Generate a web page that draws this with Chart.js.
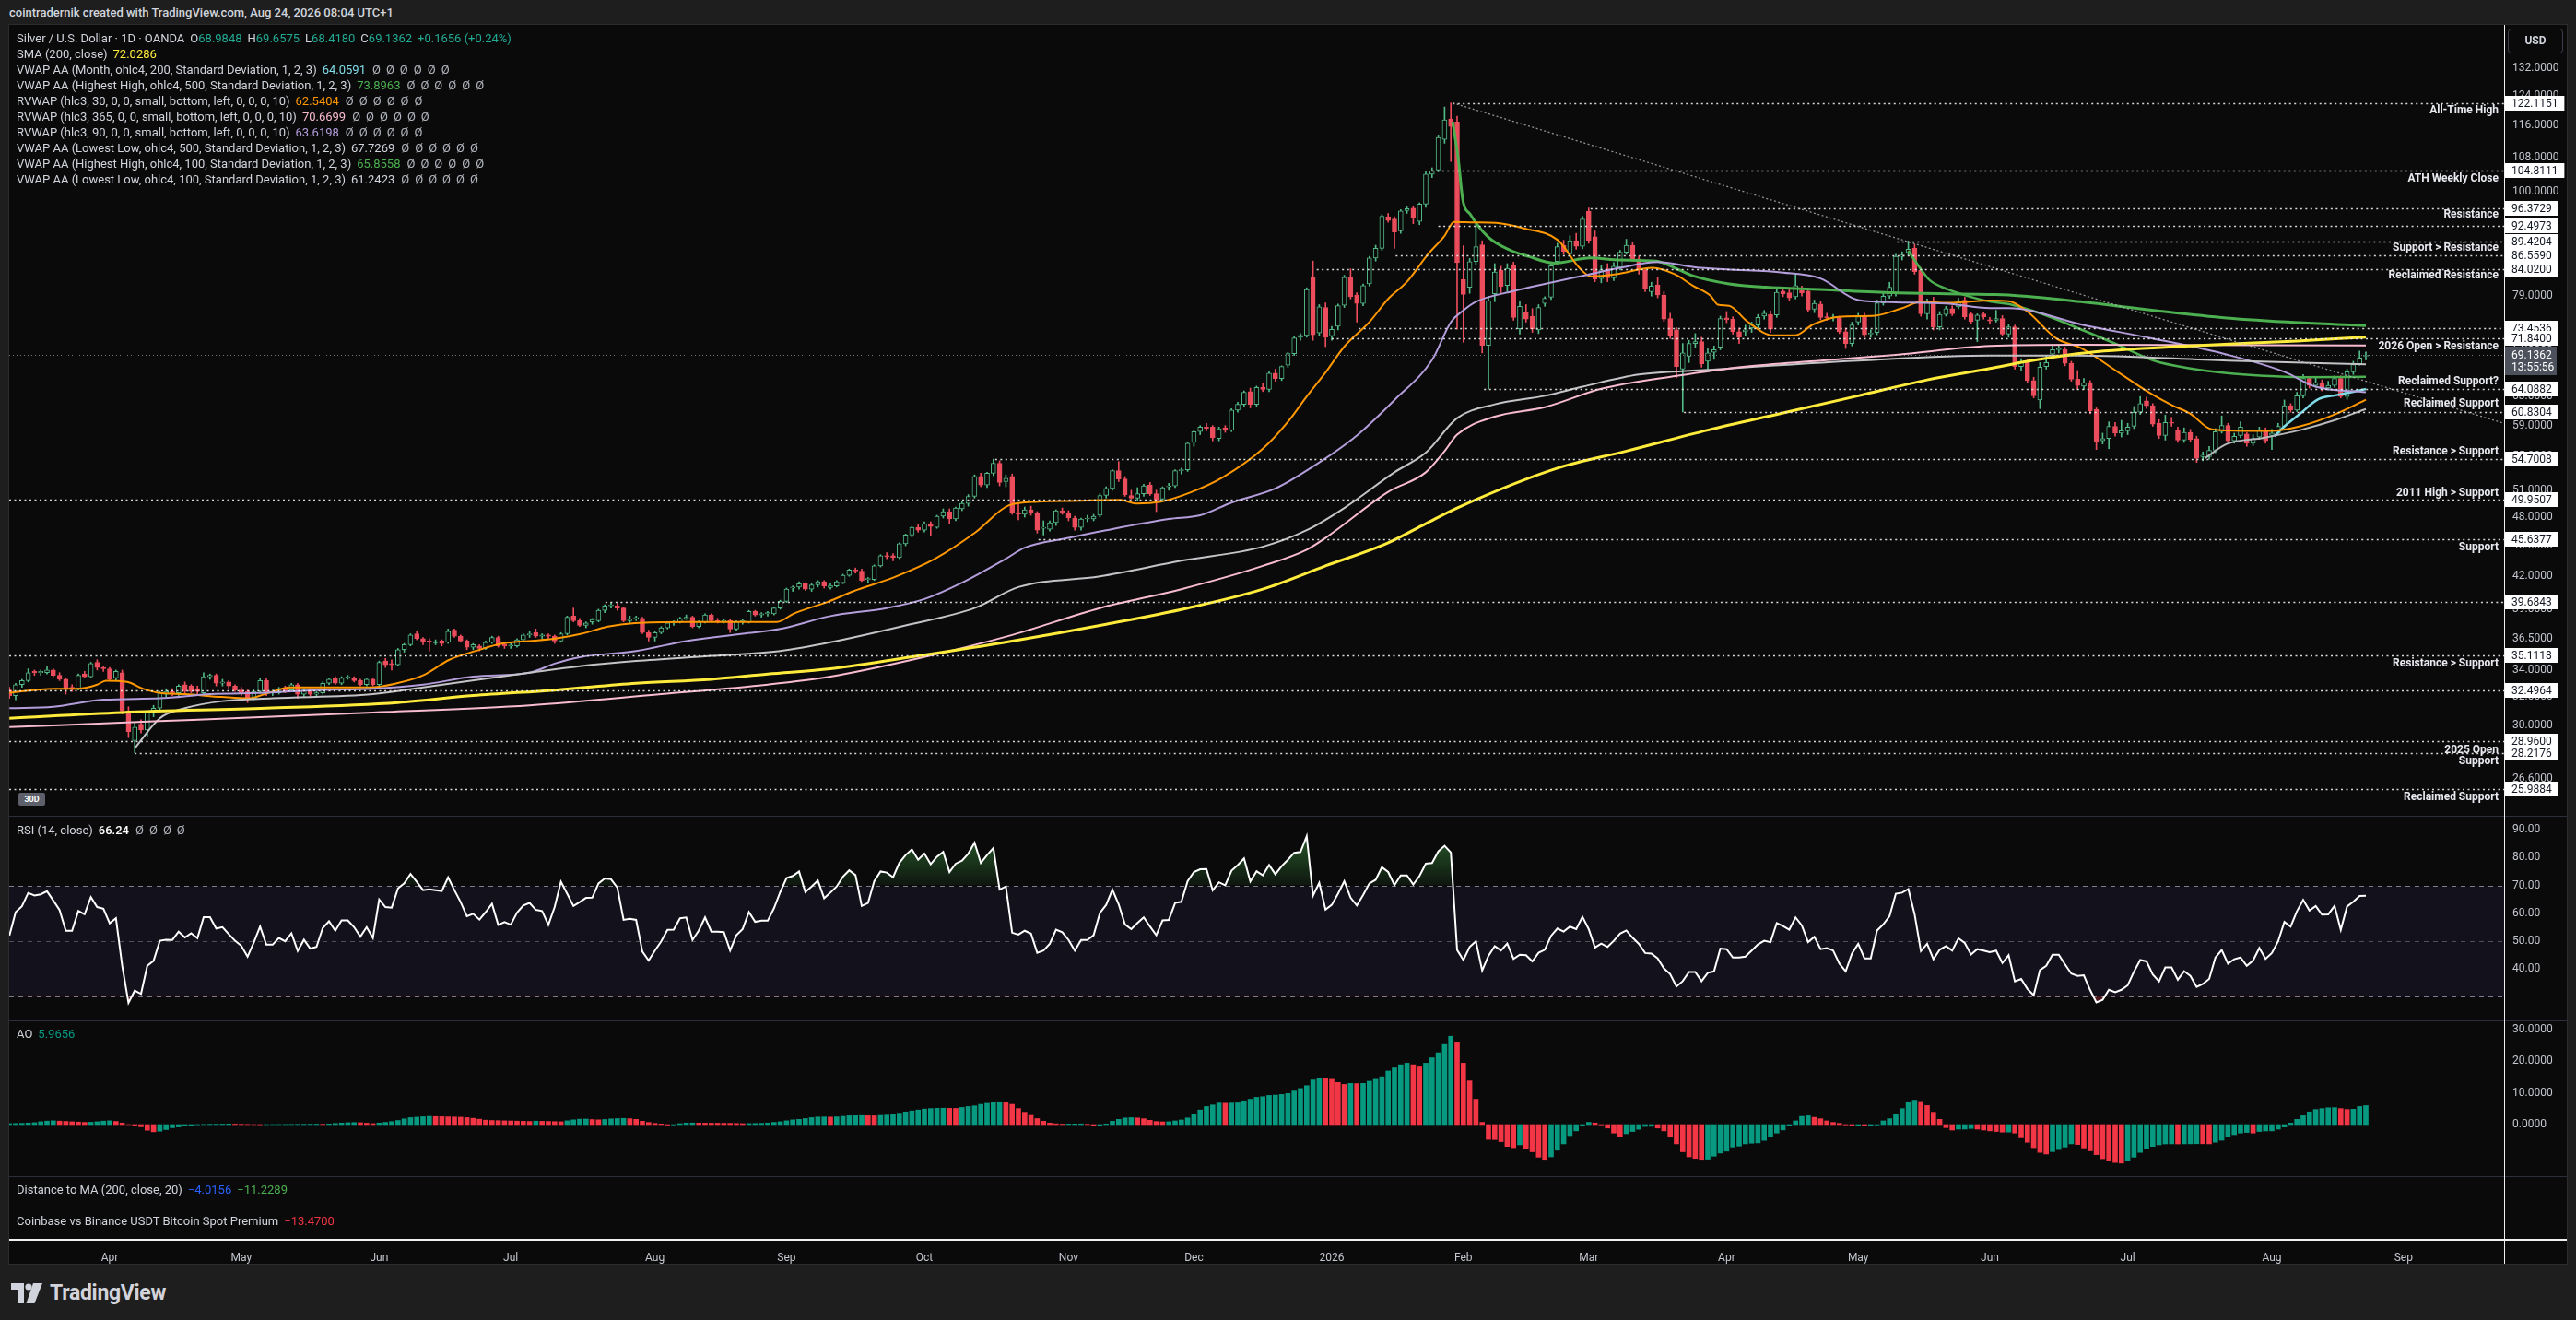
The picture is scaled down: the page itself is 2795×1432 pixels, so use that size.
<!DOCTYPE html>
<html lang="en">
<head>
<meta charset="UTF-8" />
<title>Silver / U.S. Dollar · 1D · OANDA</title>
<script src="https://cdn.jsdelivr.net/npm/chart.js@4.4.1/dist/chart.umd.min.js"></script>
<style>
  body { margin:0; width:2795px; height:1432px; background:#1e1e1e; position:relative; overflow:hidden;
         font-family: Roboto, "Noto Sans", sans-serif; color:#d1d4dc; }
  .abs { position:absolute; }
  #frame { left:9px; top:26px; width:2777px; height:1346px; background:#0a0a0a; border:1px solid #2c2c2c; box-sizing:border-box; }
  canvas { position:absolute; left:10px; }
  .legend { position:absolute; left:18px; font-size:13px; line-height:17px; white-space:nowrap; }
  .legend span.v { margin-left:6px; }
  .legend span.n { color:#b2b5be; margin-left:7px; letter-spacing:6px; }
  .sep { position:absolute; left:10px; width:2775px; height:1px; background:#2a2e39; }
</style>
</head>
<body>
  <!-- header -->
  <div class="abs" style="left:10px;top:6px;font-size:13px;font-weight:500;color:#d1d4dc;">cointradernik created with TradingView.com, Aug 24, 2026 08:04 UTC+1</div>

  <div id="frame" class="abs"></div>

  <canvas id="price" width="2775" height="858" style="top:27px;width:2775px;height:858px"></canvas>
  <canvas id="rsi" width="2775" height="222" style="top:885px;width:2775px;height:222px"></canvas>
  <canvas id="ao" width="2775" height="264" style="top:1107px;width:2775px;height:264px"></canvas>

  <!-- pane separators and axis lines -->
  <div class="sep" style="top:885px"></div>
  <div class="sep" style="top:1107px"></div>
  <div class="sep" style="top:1276px"></div>
  <div class="sep" style="top:1310px"></div>
  <div class="abs" style="left:10px;top:1344px;width:2775px;height:2px;background:#f0f0f0"></div>
  <div class="abs" style="left:2717px;top:27px;width:1px;height:1344px;background:#f0f0f0"></div>

  <!-- currency box -->
  <div class="abs" style="left:2721px;top:31px;width:58px;height:25px;border:1px solid #3a3e4a;border-radius:4px;font-size:12px;font-weight:bold;line-height:25px;text-align:center;color:#d1d4dc">USD</div>

  <!-- price legend -->
  <div class="legend" style="top:33px">
    <div>Silver / U.S. Dollar · 1D · OANDA<span class="v">O<span style="color:#22ab94">68.9848</span></span><span class="v">H<span style="color:#22ab94">69.6575</span></span><span class="v">L<span style="color:#22ab94">68.4180</span></span><span class="v">C<span style="color:#22ab94">69.1362</span></span><span class="v" style="color:#22ab94">+0.1656 (+0.24%)</span></div>
    <div>SMA (200, close)<span class="v" style="color:#ffeb3b">72.0286</span></div>
    <div>VWAP AA (Month, ohlc4, 200, Standard Deviation, 1, 2, 3)<span class="v" style="color:#80deea">64.0591</span><span class="n">ØØØØØØ</span></div>
    <div>VWAP AA (Highest High, ohlc4, 500, Standard Deviation, 1, 2, 3)<span class="v" style="color:#4caf50">73.8963</span><span class="n">ØØØØØØ</span></div>
    <div>RVWAP (hlc3, 30, 0, 0, small, bottom, left, 0, 0, 0, 10)<span class="v" style="color:#ff9800">62.5404</span><span class="n">ØØØØØØ</span></div>
    <div>RVWAP (hlc3, 365, 0, 0, small, bottom, left, 0, 0, 0, 10)<span class="v" style="color:#f8bbd0">70.6699</span><span class="n">ØØØØØØ</span></div>
    <div>RVWAP (hlc3, 90, 0, 0, small, bottom, left, 0, 0, 0, 10)<span class="v" style="color:#b39ddb">63.6198</span><span class="n">ØØØØØØ</span></div>
    <div>VWAP AA (Lowest Low, ohlc4, 500, Standard Deviation, 1, 2, 3)<span class="v">67.7269</span><span class="n">ØØØØØØ</span></div>
    <div>VWAP AA (Highest High, ohlc4, 100, Standard Deviation, 1, 2, 3)<span class="v" style="color:#4caf50">65.8558</span><span class="n">ØØØØØØ</span></div>
    <div>VWAP AA (Lowest Low, ohlc4, 100, Standard Deviation, 1, 2, 3)<span class="v">61.2423</span><span class="n">ØØØØØØ</span></div>
  </div>

  <div class="abs" style="left:20px;top:860px;width:29px;height:14px;background:#5d606b;border-radius:2px;font-size:9px;font-weight:bold;line-height:14px;text-align:center;color:#fff">30D</div>

  <div class="legend" style="top:892px">RSI (14, close)<span class="v" style="color:#ffffff;font-weight:500">66.24</span><span class="n">ØØØØ</span></div>
  <div class="legend" style="top:1113px">AO<span class="v" style="color:#089981">5.9656</span></div>
  <div class="legend" style="top:1282px">Distance to MA (200, close, 20)<span class="v" style="color:#2962ff">−4.0156</span><span class="v" style="color:#4caf50">−11.2289</span></div>
  <div class="legend" style="top:1316px">Coinbase vs Binance USDT Bitcoin Spot Premium<span class="v" style="color:#f23645">−13.4700</span></div>

  <!-- footer logo -->
  <div class="abs" style="left:12px;top:1389px;display:flex;align-items:center;gap:8px">
    <svg width="34" height="22" viewBox="0 0 34 22"><path d="M0 0h14v22H7V7H0z" fill="#d1d4dc"/><circle cx="19" cy="4" r="3.6" fill="#d1d4dc"/><path d="M24 0h10l-8.5 22h-9z" fill="#d1d4dc"/></svg>
    <span style="font-size:23px;font-weight:bold;color:#d1d4dc;letter-spacing:-0.3px">TradingView</span>
  </div>

<script>
// ---- candles (one per trading day, index 0 = 10 Mar 2025) ----
const opens = [
32.5,32.1,32.9,33.2,33.9,33.8,33.8,34.0,33.6,33.3, 32.7,32.6,33.7,33.5,34.6,34.2,34.1,33.4,33.8,31.0,
29.0,30.1,29.7,30.9,31.2,32.2,32.4,32.3,32.9,32.8, 32.6,32.3,33.5,33.6,33.0,33.1,32.8,32.5,32.4,31.9,
32.4,33.2,32.3,32.3,32.6,32.5,32.9,32.2,32.5,32.2, 32.3,33.0,33.4,33.0,33.4,33.4,33.2,32.9,33.3,32.9,
34.7,34.5,34.4,35.6,36.0,36.9,36.5,36.3,36.15,36.3, 36.2,37.2,36.7,36.3,35.8,35.9,35.7,36.2,36.6,36.0,
35.9,35.9,36.4,36.8,37.0,36.7,36.8,36.7,36.3,36.9, 38.4,38.0,37.6,37.9,38.0,38.9,39.3,39.3,39.1,38.0,
38.2,38.2,37.0,36.6,37.0,37.4,37.8,37.9,38.2,38.3, 37.5,37.9,38.5,38.0,37.95,38.0,37.3,37.9,37.9,38.8,
38.5,38.6,38.6,39.1,39.7,40.9,41.0,41.3,40.8,41.2, 41.5,40.95,41.1,41.4,42.1,42.6,42.5,41.7,41.7,43.0,
44.0,44.0,43.8,45.2,46.1,46.9,46.6,47.3,46.9,48.1, 48.6,47.8,48.9,49.5,50.3,52.6,51.6,53.0,54.2,52.0,
52.6,48.5,48.3,48.8,48.4,46.8,46.7,47.4,48.7,48.5, 47.9,46.9,47.8,47.8,48.2,50.4,51.2,53.3,52.3,50.4,
50.1,50.6,51.6,50.6,50.0,51.4,51.5,53.3,53.4,56.8, 58.2,58.8,58.8,57.3,58.7,58.4,61.1,61.9,63.7,61.9,
64.3,64.0,66.4,65.6,67.6,69.4,72.0,72.3,82.5,72.7, 77.0,72.2,73.8,77.4,82.5,79.2,77.7,81.2,86.1,88.0,
94.5,94.0,91.5,95.8,96.3,93.5,97.2,104.0,105.0,112.5, 117.8,117.0,82.0,80.6,85.4,88.7,70.7,79.4,83.7,80.9,
84.6,73.4,76.2,75.5,73.2,77.7,78.8,85.4,88.6,86.9, 89.5,88.4,95.6,90.3,82.2,84.0,82.3,84.3,87.2,88.6,
85.9,83.7,79.8,81.0,79.2,75.1,73.2,67.0,69.0,71.0, 71.3,68.2,69.6,70.4,75.2,75.0,72.9,72.9,73.5,74.0,
75.5,75.8,75.7,79.9,79.6,78.9,80.0,79.9,76.7,77.6, 75.4,75.2,75.2,72.9,71.0,74.5,75.6,72.5,72.8,77.8,
79.0,79.4,86.4,87.1,88.0,83.7,75.9,77.9,73.7,75.8, 76.8,77.1,78.3,75.9,74.8,75.9,74.9,74.8,75.1,72.5,
73.7,67.4,68.0,65.3,62.5,67.4,69.3,70.0,70.0,67.9, 65.5,64.5,65.0,61.2,57.0,57.3,58.9,58.0,58.3,58.9,
60.8,62.4,61.7,59.3,57.7,59.4,58.4,57.1,58.1,57.3, 55.0,55.0,55.8,58.2,59.0,57.0,57.7,57.9,56.7,57.5,
58.4,57.7,58.0,58.9,61.7,61.1,63.1,65.6,64.6,65.0, 64.2,64.6,65.6,63.0,66.6,67.8,68.9848
];
const highs = [
32.7,33.0,33.3,34.1,34.0,34.0,34.3,34.1,33.8,33.4, 32.9,33.7,33.9,34.6,34.8,34.3,34.2,34.0,34.0,31.3,
30.2,30.4,31.0,31.4,32.4,32.6,32.6,32.9,33.1,32.9, 32.8,33.8,33.7,33.7,33.3,33.2,32.9,32.7,32.5,32.5,
33.4,33.4,32.5,32.7,32.8,33.0,33.0,32.6,32.6,32.4, 33.1,33.4,33.5,33.5,33.6,33.5,33.3,33.4,33.4,34.7,
34.9,34.8,35.7,36.1,36.9,37.1,36.6,36.5,36.4,36.4, 37.3,37.3,36.8,36.4,36.1,36.0,36.3,36.7,36.7,36.1,
36.1,36.5,36.9,37.1,37.3,36.9,36.9,36.8,37.0,38.4, 39.1,38.2,37.9,38.2,39.0,39.4,39.6,39.5,39.2,38.4,
38.4,38.3,37.2,37.1,37.5,37.9,38.0,38.3,38.5,38.4, 38.0,38.6,38.6,38.2,38.1,38.1,38.0,38.1,38.9,38.9,
38.7,38.8,39.2,39.8,40.9,41.1,41.5,41.4,41.3,41.6, 41.6,41.3,41.6,42.2,42.7,42.8,42.7,41.9,43.1,44.1,
44.3,44.2,45.3,46.2,47.0,47.2,47.5,47.5,48.2,48.9, 48.9,49.1,49.8,50.5,52.8,53.0,53.1,54.7,54.5,52.8,
52.9,49.5,49.1,49.2,48.6,47.6,47.6,48.8,49.0,48.7, 48.1,47.9,48.2,48.3,50.6,51.4,53.4,54.4,52.6,51.0,
51.3,51.7,51.9,51.0,51.4,51.8,53.4,53.6,56.8,58.3, 59.0,59.3,59.0,58.8,59.0,61.3,62.2,63.8,64.2,64.5,
64.9,66.6,67.0,67.5,69.6,72.1,72.6,80.5,85.5,77.5, 77.8,73.8,77.6,82.8,84.0,79.6,81.2,86.4,88.6,94.9,
95.2,94.5,96.0,96.6,96.8,97.5,104.6,105.5,113.6,121.0, 122.1151,118.5,88.5,86.0,93.3,89.5,79.0,85.0,84.5,85.0,
85.3,78.0,77.5,76.8,77.5,78.9,85.2,89.0,89.6,90.5, 91.0,94.6,96.3729,91.5,84.6,85.0,85.2,87.6,89.8,89.2,
86.5,84.0,81.5,82.5,79.8,76.0,73.6,71.0,71.5,72.6, 72.0,70.2,70.6,75.5,76.3,75.4,73.5,74.0,74.5,75.8,
76.5,76.4,80.2,80.6,80.2,83.1,80.8,80.4,78.3,78.0, 76.0,75.8,75.5,73.5,74.5,76.0,76.0,73.2,78.3,79.5,
81.5,86.8,87.3,89.4204,88.8,84.2,78.5,78.8,76.3,77.2, 77.3,78.6,78.8,76.2,75.9,76.2,75.3,76.5,75.6,74.2,
74.0,68.6,68.5,65.8,68.0,69.0,70.8,70.8,70.4,68.2, 66.8,65.6,65.3,61.4,58.0,59.5,59.4,59.7,59.3,61.6,
63.0,62.9,62.0,59.8,60.4,60.1,58.8,58.7,58.5,57.6, 55.6,56.3,58.6,60.3,59.3,58.0,59.5,58.1,57.8,58.8,
58.7,58.5,59.3,62.5,62.0,63.6,66.2,65.9,65.8,65.4, 65.2,66.0,66.0,67.0,68.2,69.8,69.6575
];
const lows = [
31.9,31.8,32.7,33.1,33.6,33.6,33.7,33.5,33.2,32.2, 32.4,32.5,33.4,33.4,34.0,33.9,33.2,33.2,30.8,29.2,
28.2176,29.5,29.3,30.6,31.0,32.0,32.1,32.1,32.3,32.3, 32.2,32.2,33.3,32.8,32.8,32.6,32.4,32.1,31.6,31.8,
32.3,32.1,32.1,32.2,32.3,32.4,31.9,32.0,32.0,32.0, 32.2,32.9,32.9,32.9,33.3,33.1,32.8,32.8,32.8,32.8,
34.2,34.0,34.3,35.4,35.9,36.4,36.0,35.5,36.0,35.9, 36.1,36.6,36.2,35.6,35.6,35.5,35.6,36.1,35.8,35.7,
35.7,35.8,36.3,36.6,36.6,36.5,36.5,36.1,36.2,36.8, 37.9,37.5,37.4,37.7,37.9,38.7,39.1,38.9,37.9,37.8,
38.0,36.9,36.3,36.3,36.9,37.3,37.6,37.8,38.1,37.4, 37.4,37.8,37.9,37.8,37.8,37.0,37.2,37.7,37.8,38.4,
38.3,38.4,38.5,39.0,39.6,40.6,40.8,40.7,40.6,41.0, 40.9,40.8,41.0,41.3,42.0,42.3,41.5,41.4,41.6,42.9,
43.7,43.5,43.7,45.0,45.9,46.4,46.4,46.0,46.8,47.9, 47.3,47.6,48.7,49.2,50.1,51.4,51.3,52.7,51.5,51.4,
48.3,47.7,48.0,48.2,46.3,46.1,46.5,47.1,48.3,47.6, 46.6,46.6,47.5,47.6,48.0,50.1,51.0,52.0,50.3,50.0,
49.8,50.3,50.4,48.6,49.8,51.0,51.3,52.9,53.2,56.3, 57.8,58.3,57.0,57.0,58.1,58.2,60.8,61.6,61.4,61.5,
63.7,63.7,65.2,65.3,67.3,69.1,71.5,72.0,71.5,72.2, 70.5,71.5,73.2,77.0,78.5,74.5,77.3,80.8,85.5,87.6,
93.3,88.0,91.0,95.2,93.0,92.8,96.5,103.2,104.6,111.5, 107.0,73.3,71.2,79.5,84.8,69.5,64.1,78.0,79.5,79.8,
74.8,72.5,74.5,72.8,72.6,77.2,78.4,84.8,86.8,86.3, 87.8,87.9,89.0,81.6,81.4,81.6,81.8,83.8,86.8,85.5,
83.0,79.8,79.0,78.7,74.6,71.8,65.7,60.8304,68.0,70.3, 67.3,67.0,68.5,70.0,74.4,72.5,71.0,72.2,72.8,73.5,
75.0,72.8,75.3,78.9,78.2,78.5,79.0,76.2,76.1,74.9, 74.8,74.7,72.6,70.2,70.6,74.0,72.0,72.0,72.4,77.4,
78.6,79.0,85.7,86.5,83.0,75.5,75.0,73.2,73.2,75.5, 75.6,76.8,75.0,74.3,71.3,75.0,74.3,74.5,72.2,72.0,
67.0,66.8,65.0,62.8,61.3,67.0,68.8,69.5,67.5,65.2, 64.0,64.0,60.6,55.9,56.6,56.0,57.6,57.5,57.8,58.6,
60.5,61.3,58.9,57.3,57.1,58.9,56.8,56.8,56.9,54.3, 54.5,54.7,55.5,58.0,56.8,56.7,57.4,56.3,56.4,57.2,
56.7,55.9,57.8,58.7,60.8,60.9,62.8,64.2,64.3,63.8, 63.9,64.3,62.8,62.6,66.2,67.6,68.418
];
const closes = [
32.1,32.9,33.2,33.8,33.8,33.9,34.0,33.6,33.3,32.6, 32.6,33.6,33.5,34.5,34.2,34.1,33.3,33.9,31.0,29.6,
29.9,29.7,30.9,31.2,32.3,32.4,32.3,32.8,32.4,32.4, 32.4,33.5,33.6,33.0,33.1,32.8,32.5,32.3,31.9,32.4,
33.2,32.3,32.4,32.6,32.4,32.9,32.2,32.5,32.2,32.3, 33.0,33.3,33.0,33.4,33.5,33.2,32.9,33.3,32.9,34.6,
34.4,34.4,35.6,36.0,36.8,36.5,36.2,36.2,36.25,36.1, 37.1,36.7,36.3,35.8,36.0,35.7,36.2,36.6,35.9,35.9,
35.95,36.4,36.8,36.9,36.7,36.8,36.7,36.3,36.9,38.3, 38.0,37.6,37.8,38.1,38.9,39.3,39.35,39.1,38.0,38.15,
38.25,37.0,36.6,37.0,37.4,37.8,37.9,38.2,38.3,37.5, 37.9,38.5,38.0,37.9,38.0,37.3,37.9,38.0,38.8,38.5,
38.6,38.7,39.1,39.7,40.8,41.0,41.3,40.8,41.2,41.5, 41.1,41.15,41.5,42.1,42.6,42.5,41.6,41.7,43.0,44.0,
43.9,43.8,45.2,46.1,46.9,46.6,47.3,47.0,48.1,48.6, 47.8,49.0,49.5,50.3,52.6,51.6,53.0,54.2,51.9,52.4,
48.5,48.3,48.8,48.5,46.6,46.8,47.4,48.7,48.5,47.9, 46.9,47.8,47.85,48.1,50.4,51.2,53.3,52.3,50.5,50.1,
50.6,51.5,50.6,49.9,51.3,51.5,53.3,53.4,56.7,58.2, 58.8,58.6,57.4,58.6,58.4,61.1,61.9,63.6,61.9,64.3,
64.0,66.4,65.6,67.4,69.4,71.9,72.3,80.2,72.4,77.1, 72.0,73.3,77.3,82.4,78.9,77.7,80.9,86.1,88.0,94.6,
93.7,91.3,95.7,96.2,94.3,97.2,104.0,104.8,113.0,117.5, 115.8,85.2,79.3,85.4,88.3,70.7,78.2,83.4,80.7,84.1,
75.3,77.2,75.0,73.4,77.0,78.6,84.6,88.3,87.4,89.5, 88.4,94.0,89.6,82.1,83.8,82.3,84.5,87.2,88.6,85.9,
83.9,80.4,80.8,79.2,75.0,72.3,67.4,69.5,71.0,71.3, 67.8,69.5,70.0,75.1,74.9,72.9,72.0,73.2,74.0,75.3,
76.0,73.3,79.7,79.4,78.7,80.9,79.6,76.6,77.7,75.3, 75.2,75.3,72.9,71.0,74.0,75.4,72.4,72.7,77.8,79.0,
80.6,86.4,86.7,87.8,83.5,75.9,77.9,73.7,75.8,76.8, 75.9,78.0,75.4,74.6,75.7,75.4,74.7,75.1,72.5,73.7,
67.4,68.0,65.3,63.1,67.3,68.0,70.0,70.1,67.9,65.5, 64.6,65.0,61.0,56.8,57.3,58.9,58.0,58.3,58.8,60.8,
62.0,61.7,59.2,57.7,59.4,59.3,57.1,58.1,57.2,54.8, 55.2,55.8,58.2,59.0,57.0,57.6,58.8,56.7,57.3,58.3,
57.0,58.0,58.9,61.7,61.1,63.1,65.6,64.6,65.0,64.2, 64.6,65.6,63.0,66.6,67.7,68.7,69.1362
];

// ---- indicator lines as [candle index, value] ----
const sma200 = [[0,30.5],[18,30.9],[41,31.2],[62,31.6],[74,32.1],[87,32.5],[100,33.0],[112,33.3],[121,33.7],[131,34.1],[145,35.1],[160,36.3],[175,37.7],[188,39.1],[200,40.8],[210,43.0],[220,45.3],[226,47.3],[231,49.0],[247,53.6],[258,55.7],[271,58.4],[283,60.7],[295,63.1],[306,65.4],[316,67.1],[322,68.2],[332,69.6],[348,70.6],[365,71.4],[376,72.03]];
const rvwap365 = [[0,29.9],[24,30.3],[58,30.9],[83,31.4],[104,32.2],[121,32.9],[131,33.5],[145,34.9],[160,36.8],[174,39.1],[187,40.8],[200,43.0],[207,44.6],[210,45.8],[220,50.8],[226,53.1],[229,55.7],[231,57.8],[237,60.2],[245,61.5],[254,64.1],[266,66.0],[277,67.4],[289,68.3],[301,69.2],[316,70.6],[330,70.8],[376,70.67]];
const vwapLL500 = [[20,28.5],[24,30.5],[28,31.2],[34,31.7],[42,31.9],[58,32.2],[66,32.7],[83,33.8],[91,34.3],[100,34.7],[112,35.1],[123,35.5],[131,36.2],[143,37.6],[154,39.1],[161,41.0],[174,42.0],[187,43.5],[200,44.9],[207,46.6],[213,49.0],[221,53.1],[226,55.5],[231,60.0],[237,61.9],[245,63.1],[251,64.4],[260,66.2],[271,66.9],[295,68.3],[316,69.1],[330,69.1],[354,68.3],[376,67.73]];
const rvwap90 = [[0,31.2],[7,31.3],[15,31.8],[24,31.9],[32,32.2],[41,32.3],[49,32.5],[58,32.6],[66,32.9],[74,33.5],[83,33.8],[87,34.5],[91,35.0],[100,35.5],[108,36.3],[117,36.9],[123,37.3],[131,38.4],[140,39.1],[146,39.9],[152,41.4],[159,43.7],[162,44.8],[169,45.8],[175,46.6],[185,47.8],[190,48.2],[195,49.6],[202,51.2],[208,53.8],[215,57.7],[221,62.5],[227,68.4],[230,74.5],[232,76.5],[234,78.0],[240,79.9],[245,81.2],[251,82.7],[257,84.2],[263,85.3],[269,84.3],[274,83.9],[283,83.3],[289,82.2],[295,78.3],[301,77.9],[309,77.7],[316,76.9],[319,76.9],[331,74.0],[342,71.8],[354,69.2],[363,66.6],[368,64.4],[376,63.62]];
const rvwap30 = [[0,32.3],[7,32.6],[11,32.6],[14,32.9],[15.4,33.2],[18.8,33.1],[21.3,32.6],[23.8,32.3],[28,32.2],[33.9,32.0],[38.2,31.9],[40.7,32.2],[44.9,32.7],[49.1,32.7],[57.6,32.7],[61.8,33.0],[66,33.6],[70.2,34.8],[74.4,35.5],[78.7,36.1],[82.9,36.3],[87.1,36.5],[91.3,36.9],[95.5,37.5],[99.8,37.8],[108.2,37.9],[116.6,37.9],[122.5,37.9],[125.1,38.6],[130.8,39.7],[134.6,40.6],[141.1,41.9],[147.7,43.7],[154.2,46.4],[159.5,49.3],[164.1,49.7],[170.6,49.8],[177.2,49.9],[179.8,49.5],[183.7,49.7],[188.3,50.7],[193.6,52.5],[200,56.0],[204,59.5],[207,63.0],[210,66.5],[213,70.5],[217,74.5],[220,78.5],[223,81.6],[226.4,86.9],[229,90.5],[230.5,93.4],[233.7,93.3],[237.2,93.2],[241.8,92.0],[247.1,89.6],[250.5,84.2],[252.3,82.6],[256.4,83.0],[262.2,84.2],[265.7,83.0],[268.6,80.9],[271.5,79.0],[272.6,77.5],[274.4,77.3],[277.3,74.6],[281.4,72.3],[284.9,72.3],[287.8,74.1],[291.9,75.4],[297.7,75.6],[301.8,76.8],[305.2,78.0],[309.3,77.8],[316.2,78.2],[319,78.1],[322,76.3],[326.6,71.8],[330.5,70.3],[336.4,66.6],[341,63.8],[345,61.8],[348,60.6],[351.4,58.5],[356.7,58.3],[360.8,58.3],[365.5,58.9],[371.3,60.6],[376,62.54]];
const vwapHH500 = [[230.3,117.0],[231.2,107.4],[231.9,98.2],[233.1,95.0],[236,90.2],[239.5,87.6],[242.4,86.4],[246.5,85.1],[252.3,86.1],[257,85.7],[262.8,85.5],[265.7,84.2],[268.6,82.7],[274.4,81.2],[280.2,80.6],[288.9,80.2],[300.6,79.6],[316.2,79.3],[319,79.2],[330.5,78.0],[342.2,76.5],[353.8,75.2],[365.5,74.4],[376,73.9]];
const vwapHH100 = [[303,87.5],[305.2,83.6],[306.4,81.9],[309.3,80.2],[312.2,79.1],[316.2,78.0],[319,77.6],[324.8,75.7],[330.5,73.3],[336.4,70.8],[342.2,68.3],[348,67.1],[353.8,66.4],[359.7,66.0],[365.5,65.8],[376,65.86]];
const vwapLL100 = [[350.3,54.8],[353.8,56.6],[359.7,57.4],[365.5,58.4],[371.3,59.8],[376,61.24]];
const vwapMonth = [[361.4,57.6],[363,58.9],[365.5,60.6],[368.4,62.6],[371.3,63.2],[374.2,63.7],[376,64.06]];

// ---- RSI (14) ----
const rsi = [
52.0,60.4,62.5,67.3,66.4,66.8,67.9,64.6,61.2,53.7, 53.7,60.8,59.6,65.8,62.2,61.6,56.4,58.2,41.1,27.8,
32.2,31.0,41.1,42.9,50.1,50.5,50.4,53.4,51.3,52.8, 51.0,58.6,58.6,54.5,55.0,52.5,50.1,48.3,44.4,49.5,
55.2,48.7,48.7,51.1,49.9,52.8,46.5,50.5,47.3,47.9, 54.7,57.1,53.7,57.4,57.4,55.0,51.6,55.0,51.1,64.9,
62.2,62.0,68.9,70.7,74.1,71.3,68.3,68.6,68.3,68.0, 72.9,68.3,64.0,58.9,59.8,57.7,60.4,63.4,55.8,56.8,
55.9,60.2,62.8,63.7,61.2,60.8,55.8,62.2,71.3,67.0, 62.6,64.0,65.5,65.6,70.7,72.5,72.2,69.2,57.6,58.0,
57.6,46.2,43.0,46.6,49.9,54.0,54.1,58.2,58.5,50.4, 53.8,58.5,53.4,53.4,53.2,46.6,52.1,54.3,60.4,56.9,
57.3,57.3,61.8,67.6,72.6,73.4,75.0,67.6,69.6,71.7, 65.4,67.4,69.6,73.1,75.4,73.7,62.6,63.7,71.5,75.0,
74.6,72.9,78.1,80.9,82.9,79.2,81.4,77.6,80.3,82.0, 74.8,77.8,78.9,81.4,85.3,78.1,80.9,83.4,68.5,69.6,
53.0,52.3,53.7,52.7,45.8,46.6,49.0,54.1,53.2,50.4, 46.6,50.4,50.4,52.1,60.1,63.0,68.5,63.2,56.0,54.3,
56.5,58.5,55.2,52.1,57.4,57.6,63.7,64.1,71.5,74.8, 75.8,75.9,68.2,71.1,70.0,75.3,77.3,79.7,71.4,75.1,
73.6,77.3,74.0,76.9,79.2,81.7,82.0,87.7,66.3,70.9, 61.3,63.0,67.0,71.5,65.6,62.8,66.5,70.7,72.0,76.5,
74.8,70.1,73.6,73.6,70.3,73.4,77.8,78.0,82.2,84.2, 81.8,46.8,43.2,47.9,49.9,39.4,44.7,48.2,46.6,49.1,
43.6,45.1,44.9,42.7,45.8,46.9,51.9,54.5,53.4,55.2, 54.3,58.7,54.3,47.7,49.1,47.9,50.1,52.7,53.8,51.2,
49.0,45.7,45.5,43.8,40.2,38.1,33.7,35.6,38.9,38.9, 35.6,38.6,39.1,47.3,47.1,44.1,44.1,44.4,46.6,48.8,
50.1,49.6,56.5,55.4,54.1,58.5,55.6,49.6,51.5,47.1, 47.5,46.6,41.9,39.1,45.5,49.0,43.8,43.8,53.8,56.0,
59.0,67.0,67.4,68.7,59.6,46.4,49.0,43.5,46.9,48.2, 46.6,51.0,49.3,45.2,47.1,46.6,46.0,46.6,42.1,44.9,
35.5,36.4,32.8,30.5,39.6,41.1,45.1,45.1,41.6,38.3, 37.5,37.7,32.4,28.0,28.9,32.5,31.6,32.5,34.1,39.0,
43.2,42.7,38.0,35.5,40.5,40.5,36.1,39.2,37.5,33.5, 34.6,36.4,44.1,46.8,41.9,43.5,44.1,41.1,43.0,47.5,
43.6,45.7,49.9,56.9,55.2,60.7,64.8,61.0,62.6,59.5, 59.6,62.6,54.0,62.4,64.1,66.2,66.24
];

// ---- Awesome Oscillator ----
const ao = [
0.3,0.35,0.4,0.5,0.6,0.9,1.1,1.2,1.1,1.0, 0.9,0.8,0.7,0.75,0.9,1.1,1.2,1.0,0.5,0.0,
-0.2,-0.7,-1.8,-2.3,-2.1,-1.6,-1.0,-0.75,-0.45,-0.2, -0.05,0.05,0.1,0.12,0.15,0.2,0.15,0.1,0.05,0.0,
-0.05,-0.02,0.0,0.02,0.04,0.06,0.08,0.1,0.12,0.14, 0.1,0.2,0.35,0.5,0.6,0.65,0.6,0.45,0.3,0.5,
0.7,0.95,1.3,1.8,2.2,2.35,2.5,2.6,2.55,2.5, 2.45,2.4,2.35,2.2,2.0,1.7,1.4,1.3,1.25,1.2,
1.15,1.1,1.05,1.0,1.1,1.05,1.0,0.95,0.9,1.2, 1.5,1.7,1.75,1.6,1.5,1.6,1.8,1.9,1.95,1.85,
1.65,1.07,0.68,0.39,0.2,-0.15,-0.1,0.3,0.5,0.52, 0.48,0.46,0.45,0.44,0.42,0.4,0.35,0.3,0.32,0.35,
0.4,0.5,0.7,0.9,1.2,1.5,1.65,1.9,2.2,2.4, 2.42,2.38,2.45,2.6,2.8,2.82,2.85,2.8,2.78,2.9,
3.0,3.3,3.6,4.0,4.3,4.6,4.9,5.05,5.15,5.17, 5.13,5.1,5.4,5.7,5.9,6.4,6.7,7.0,7.2,6.9,
6.4,5.05,3.9,2.9,1.9,1.07,0.5,0.25,0.15,0.18, 0.2,0.22,0.1,-0.5,-0.3,0.2,1.07,1.65,2.1,2.2,
2.1,1.85,1.36,0.97,0.87,0.9,1.17,1.46,2.1,3.4, 4.6,5.7,6.2,6.8,6.75,6.8,6.85,7.5,8.0,8.6,
8.8,9.2,9.3,9.5,9.8,10.6,11.4,12.3,14.1,14.6, 14.55,14.3,13.3,12.7,13.0,12.95,13.0,13.7,14.3,15.1,
16.9,17.9,18.9,19.4,18.9,18.5,19.4,21.1,22.7,25.3, 27.9,26.1,19.4,13.8,8.0,0.7,-4.7,-4.75,-5.4,-6.9,
-7.3,-6.4,-7.6,-8.6,-10.3,-11.0,-10.2,-8.1,-6.1,-3.5, -2.0,-0.3,0.7,0.5,-0.1,-1.1,-2.7,-3.7,-2.9,-2.2,
-1.5,-0.6,-0.55,-1.1,-2.0,-4.0,-6.1,-8.6,-10.2,-10.7, -11.0,-10.95,-10.0,-9.0,-8.4,-7.1,-6.8,-6.1,-5.9,-5.8,
-5.0,-4.0,-2.7,-1.7,-0.3,1.17,2.6,2.8,2.3,1.85, 1.17,0.68,0.39,-0.1,-0.49,-0.29,-0.49,-0.48,-0.1,1.17,
1.85,3.1,5.05,7.2,7.7,7.3,6.0,3.9,1.65,-0.97, -1.75,-1.46,-1.45,-1.26,-1.46,-1.75,-2.0,-2.2,-2.4,-2.38,
-2.7,-4.2,-5.6,-7.3,-8.8,-9.3,-8.55,-7.9,-7.1,-6.1, -6.3,-7.4,-8.3,-9.5,-10.8,-11.5,-12.0,-12.2,-11.5,-10.3,
-8.8,-7.6,-6.9,-6.4,-6.12,-6.1,-6.13,-6.1,-6.08,-6.05, -6.07,-6.1,-5.6,-4.96,-3.98,-3.2,-2.7,-2.5,-2.7,-2.2,
-2.04,-2.0,-1.46,-0.78,0.5,1.65,2.8,4.0,4.76,5.05, 5.3,5.35,5.05,4.76,4.86,5.7,5.97
];

// ---- axis ticks, time labels, levels and notes ----
const priceTicks = [132,124,116,108,100,92,84,79,71,67,63,59,55,51,48,45,42,39,36.5,34,32,30,28,26.6];
const rsiTicks = [40,50,60,70,80,90];
const aoTicks = [0,10,20,30];
const monthIdx = [16,37,59,80,103,124,146,169,189,211,232,252,274,295,316,338,361,382];
const monthNames = ['Apr','May','Jun','Jul','Aug','Sep','Oct','Nov','Dec','2026','Feb','Mar','Apr','May','Jun','Jul','Aug','Sep'];

const levelPrices = [122.1151,104.8111,96.3729,92.4973,89.4204,86.5590,84.0200,73.4536,71.8400,64.0882,60.8304,54.7008,49.9507,45.6377,39.6843,35.1118,32.4964,28.9600,28.2176,25.9884];
const levelStart  = [230.3,227,252.3,228,301.2,221.2,208.6,215.3,211,235.3,267.2,157.3,-1,164.2,95.1,-1,-1,-1,20,-1];
const noteTexts  = ['All-Time High','ATH Weekly Close','Resistance','Support > Resistance','Reclaimed Resistance','2026 Open > Resistance','Reclaimed Support?','Reclaimed Support','Resistance > Support','2011 High > Support','Support','Resistance > Support','2025 Open','Support','Reclaimed Support'];
const notePrices = [120.0,102.9,94.9,88.1,82.7,70.5,65.2,62.0,55.6,50.7,44.8,34.5,28.4,27.7,25.5];
const trendLine = [[230.3,122.1151],[398.06,59.3]];
const lastClose = 69.1362;
const countdown = '13:55:56';

// ---- shared setup ----
const UP = '#53b987', DOWN = '#eb4d5c', BG = '#0a0a0a';
const AO_UP = '#089981', AO_DOWN = '#f23645';
const X_MIN = -0.03, X_MAX = 398.06, AXIS_W = 68;

Chart.defaults.font.family = 'Roboto, "Noto Sans", sans-serif';
Chart.defaults.font.size = 12;
Chart.defaults.color = '#b2b5be';
Chart.defaults.animation = false;

const common = {
  responsive: false,
  devicePixelRatio: 1,
  layout: { padding: 0, autoPadding: false },
  plugins: { legend: { display: false }, tooltip: { enabled: false } },
  events: []
};

// scales must not reserve room for half tick labels: the panes are edge to edge
function noPad(s) { s.paddingTop = 0; s.paddingBottom = 0; s.paddingLeft = 0; s.paddingRight = 0; }

function xAxis(show) {
  const o = { type: 'linear', min: X_MIN, max: X_MAX, offset: false, display: show,
              grid: { display: false }, border: { display: false } };
  if (show) {
    o.afterBuildTicks = s => { s.ticks = monthIdx.map(v => ({ value: v })); };
    o.afterFit = s => { s.height = 27; noPad(s); };
    o.ticks = { autoSkip: false, maxRotation: 0, padding: 6, color: '#c3c6ce',
                callback: (v, i) => monthNames[i] };
  }
  return o;
}
function yAxis(tickList, fmt, extra) {
  return Object.assign({
    position: 'right',
    grid: { display: false, drawTicks: false },
    border: { display: false },
    afterFit: s => { s.width = AXIS_W; noPad(s); },
    afterBuildTicks: s => { s.ticks = tickList.map(v => ({ value: v })); },
    ticks: { padding: 9, autoSkip: false, color: '#c3c6ce', callback: v => Number(v).toFixed(fmt) }
  }, extra);
}
const pts = arr => arr.map(p => ({ x: p[0], y: p[1] }));
function lineSet(arr, color, width) {
  return { type: 'line', data: pts(arr), borderColor: color, borderWidth: width, pointRadius: 0,
           cubicInterpolationMode: 'monotone', fill: false, order: 0 };
}

// ---- price pane ----
const isUp = closes.map((c, i) => c >= opens[i]);
const levelsPlugin = {
  id: 'levels',
  afterDatasetsDraw(chart) {
    const { ctx, chartArea: a, scales: { x, y } } = chart;
    ctx.save();
    ctx.beginPath(); ctx.rect(a.left, a.top, a.right - a.left, a.bottom - a.top); ctx.clip();
    // last price line
    ctx.lineWidth = 1; ctx.setLineDash([1, 3]); ctx.strokeStyle = 'rgba(160,163,170,0.7)';
    let py = Math.round(y.getPixelForValue(lastClose)) + 0.5;
    ctx.beginPath(); ctx.moveTo(a.left, py); ctx.lineTo(a.right, py); ctx.stroke();
    // horizontal levels
    ctx.lineWidth = 1.4; ctx.setLineDash([2, 3.5]); ctx.strokeStyle = 'rgba(240,240,240,0.9)';
    levelPrices.forEach((p, k) => {
      const yy = Math.round(y.getPixelForValue(p)) + 0.5;
      const x0 = levelStart[k] < 0 ? a.left : x.getPixelForValue(levelStart[k]);
      ctx.beginPath(); ctx.moveTo(x0, yy); ctx.lineTo(a.right, yy); ctx.stroke();
    });
    // trend line from the all-time high
    ctx.lineWidth = 1.3; ctx.setLineDash([2, 2.5]); ctx.strokeStyle = 'rgba(190,192,198,0.75)';
    ctx.beginPath();
    ctx.moveTo(x.getPixelForValue(trendLine[0][0]), y.getPixelForValue(trendLine[0][1]));
    ctx.lineTo(x.getPixelForValue(trendLine[1][0]), y.getPixelForValue(trendLine[1][1]));
    ctx.stroke();
    // notes
    ctx.setLineDash([]);
    ctx.font = 'bold 12px Roboto, "Noto Sans", sans-serif';
    ctx.textAlign = 'right'; ctx.textBaseline = 'middle';
    ctx.fillStyle = '#e8eaf0';
    noteTexts.forEach((t, k) => ctx.fillText(t, a.right - 6, y.getPixelForValue(notePrices[k])));
    ctx.restore();
  },
  afterDraw(chart) {
    const { ctx, chartArea: a, scales: { y } } = chart;
    ctx.save();
    ctx.font = '12px Roboto, "Noto Sans", sans-serif';
    ctx.textAlign = 'left'; ctx.textBaseline = 'middle';
    levelPrices.forEach(p => {
      const yy = Math.round(y.getPixelForValue(p));
      const txt = p.toFixed(4);
      const w = ctx.measureText(txt).width + 14;
      ctx.fillStyle = '#ffffff'; ctx.fillRect(a.right + 1, yy - 8, w, 16);
      ctx.fillStyle = '#131722'; ctx.fillText(txt, a.right + 8, yy + 0.5);
    });
    const py = Math.round(y.getPixelForValue(lastClose));
    ctx.fillStyle = '#4c515c'; ctx.fillRect(a.right + 1, py - 9, 56, 31);
    ctx.fillStyle = '#ffffff';
    ctx.fillText(lastClose.toFixed(4), a.right + 8, py + 0.5);
    ctx.fillText(countdown, a.right + 8, py + 14);
    ctx.restore();
  }
};

new Chart(document.getElementById('price'), {
  type: 'bar',
  data: {
    datasets: [
      lineSet(sma200, '#ffeb3b', 3),
      lineSet(rvwap365, '#f8bbd0', 2),
      lineSet(vwapLL500, '#c4c4c8', 2),
      lineSet(rvwap90, '#b39ddb', 2),
      lineSet(rvwap30, '#ff9800', 2),
      lineSet(vwapHH500, '#4caf50', 3),
      lineSet(vwapHH100, '#4caf50', 2.5),
      lineSet(vwapLL100, '#b8b8bc', 2),
      lineSet(vwapMonth, '#7fdbe8', 2.5),
      { type: 'bar', order: 1, grouped: false, barThickness: 5, minBarLength: 1, borderSkipped: false, borderWidth: 1,
        data: opens.map((o, i) => ({ x: i, y: [o, closes[i]] })),
        backgroundColor: isUp.map(u => u ? BG : DOWN),
        borderColor: isUp.map(u => u ? UP : DOWN) },
      { type: 'bar', order: 2, grouped: false, barThickness: 1, minBarLength: 1, borderWidth: 0,
        data: lows.map((l, i) => ({ x: i, y: [l, highs[i]] })),
        backgroundColor: isUp.map(u => u ? UP : DOWN) }
    ]
  },
  options: Object.assign({}, common, {
    scales: {
      x: xAxis(false),
      y: yAxis(priceTicks, 4, { type: 'logarithmic', min: 24.48, max: 145.6 })
    }
  }),
  plugins: [levelsPlugin]
});

// ---- RSI pane ----
const rsiCanvas = document.getElementById('rsi');
const grad = rsiCanvas.getContext('2d').createLinearGradient(0, 12, 0, 76);
grad.addColorStop(0, 'rgba(67,160,71,0.6)');
grad.addColorStop(1, 'rgba(67,160,71,0.08)');
const rsiBand = {
  id: 'rsiBand',
  beforeDatasetsDraw(chart) {
    const { ctx, chartArea: a, scales: { y } } = chart;
    const y70 = Math.round(y.getPixelForValue(70)) + 0.5;
    const y50 = Math.round(y.getPixelForValue(50)) + 0.5;
    const y30 = Math.round(y.getPixelForValue(30)) + 0.5;
    ctx.save();
    ctx.fillStyle = '#13111c'; ctx.fillRect(a.left, y70, a.right - a.left, y30 - y70);
    ctx.lineWidth = 1; ctx.setLineDash([5, 5]);
    ctx.strokeStyle = 'rgba(130,133,144,0.95)';
    [y70, y30].forEach(v => { ctx.beginPath(); ctx.moveTo(a.left, v); ctx.lineTo(a.right, v); ctx.stroke(); });
    ctx.strokeStyle = 'rgba(130,133,144,0.55)';
    ctx.beginPath(); ctx.moveTo(a.left, y50); ctx.lineTo(a.right, y50); ctx.stroke();
    ctx.restore();
  }
};
const rsiPts = rsi.map((v, i) => ({ x: i, y: v }));
new Chart(rsiCanvas, {
  type: 'line',
  data: {
    datasets: [
      { data: rsiPts, borderColor: '#ffffff', borderWidth: 2, pointRadius: 0, tension: 0, order: 0,
        fill: { target: { value: 70 }, above: grad, below: 'rgba(0,0,0,0)' } },
      { data: rsiPts, borderColor: 'rgba(0,0,0,0)', borderWidth: 0, pointRadius: 0, tension: 0, order: 1,
        fill: { target: { value: 30 }, above: 'rgba(0,0,0,0)', below: 'rgba(242,54,69,0.3)' } }
    ]
  },
  options: Object.assign({}, common, {
    scales: { x: xAxis(false), y: yAxis(rsiTicks, 2, { min: 21.5, max: 95 }) }
  }),
  plugins: [rsiBand]
});

// ---- AO pane (with time axis below the empty panes) ----
new Chart(document.getElementById('ao'), {
  type: 'bar',
  data: {
    datasets: [{
      data: ao.map((v, i) => ({ x: i, y: v })),
      backgroundColor: ao.map((v, i) => (i === 0 || v >= ao[i - 1]) ? AO_UP : AO_DOWN),
      barThickness: 5, grouped: false, borderWidth: 0
    }]
  },
  options: Object.assign({}, common, {
    scales: { x: xAxis(true), y: yAxis(aoTicks, 4, { min: -36.12, max: 32.91 }) }
  })
});
</script>
</body>
</html>
